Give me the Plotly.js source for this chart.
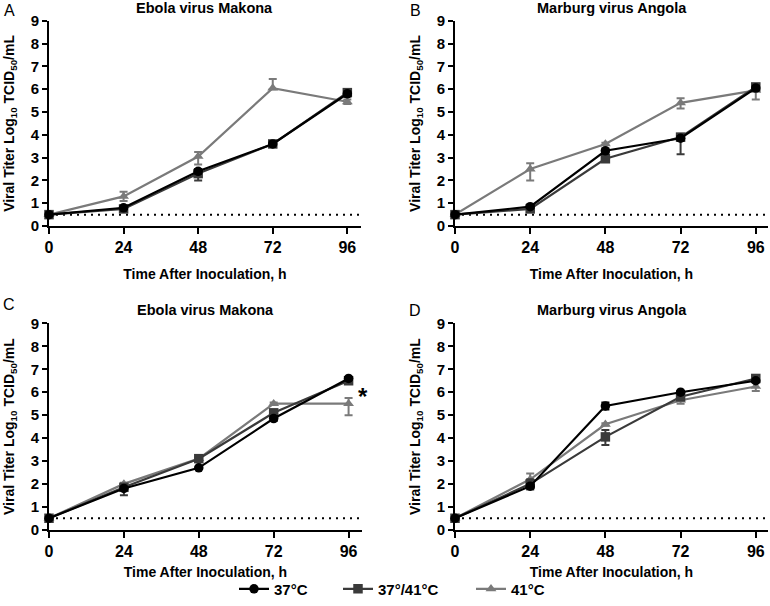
<!DOCTYPE html>
<html>
<head>
<meta charset="utf-8">
<script src="https://cdn.plot.ly/plotly-3.0.1.min.js"></script>
<style>html,body{margin:0;padding:0;background:#fff;}#chart{width:770px;height:606px;}</style>
</head>
<body>
<div id="chart"></div>
<script>
// ---------- DATA ----------
const hours = [0, 24, 48, 72, 96];
const seriesNames = ['37°C', '37°/41°C', '41°C'];
const panelTitles = ['Ebola virus Makona', 'Marburg virus Angola', 'Ebola virus Makona', 'Marburg virus Angola'];
const panelLetters = ['A', 'B', 'C', 'D'];
const xTickVals = [0, 24, 48, 72, 96];
const yTickVals = [0, 1, 2, 3, 4, 5, 6, 7, 8, 9];
const detectionLimit = 0.5;

// Panel A – Ebola virus Makona
const a37 = [0.5, 0.8, 2.4, 3.6, 5.8];
const a37Up = [0, 0.05, 0.1, 0.05, 0.1];
const a37Down = [0, 0.05, 0.1, 0.05, 0.1];
const a3741 = [0.5, 0.75, 2.3, 3.6, 5.85];
const a3741Up = [0, 0.05, 0.15, 0.05, 0.1];
const a3741Down = [0, 0.05, 0.3, 0.05, 0.1];
const a41 = [0.5, 1.3, 3.05, 6.05, 5.45];
const a41Up = [0, 0.2, 0.2, 0.4, 0.1];
const a41Down = [0, 0.2, 0.35, 0.05, 0.1];

// Panel B – Marburg virus Angola
const b37 = [0.5, 0.85, 3.3, 3.85, 6.05];
const b37Up = [0, 0.05, 0.1, 0.1, 0.1];
const b37Down = [0, 0.05, 0.1, 0.1, 0.1];
const b3741 = [0.5, 0.75, 2.95, 3.9, 6.1];
const b3741Up = [0, 0.05, 0.1, 0.1, 0.1];
const b3741Down = [0, 0.05, 0.1, 0.75, 0.1];
const b41 = [0.5, 2.5, 3.6, 5.4, 5.95];
const b41Up = [0, 0.25, 0.05, 0.2, 0.1];
const b41Down = [0, 0.5, 0.05, 0.25, 0.4];

// Panel C – Ebola virus Makona
const c37 = [0.5, 1.8, 2.7, 4.85, 6.6];
const c37Up = [0, 0.05, 0.05, 0.1, 0.05];
const c37Down = [0, 0.05, 0.05, 0.1, 0.05];
const c3741 = [0.5, 1.85, 3.1, 5.1, 6.5];
const c3741Up = [0, 0.1, 0.05, 0.1, 0.05];
const c3741Down = [0, 0.35, 0.05, 0.1, 0.05];
const c41 = [0.5, 2.0, 3.1, 5.5, 5.5];
const c41Up = [0, 0.05, 0.05, 0.05, 0.25];
const c41Down = [0, 0.05, 0.05, 0.05, 0.5];

// Panel D – Marburg virus Angola
const d37 = [0.5, 1.9, 5.4, 6.0, 6.5];
const d37Up = [0, 0.1, 0.15, 0.05, 0.05];
const d37Down = [0, 0.1, 0.15, 0.05, 0.05];
const d3741 = [0.5, 2.0, 4.05, 5.8, 6.6];
const d3741Up = [0, 0.2, 0.3, 0.1, 0.05];
const d3741Down = [0, 0.25, 0.35, 0.1, 0.05];
const d41 = [0.5, 2.2, 4.6, 5.65, 6.25];
const d41Up = [0, 0.25, 0.05, 0.15, 0.2];
const d41Down = [0, 0.25, 0.05, 0.15, 0.2];

// ---------- STYLE ----------
const W = 770, H = 606;
const FONT = '"Liberation Sans", Arial, Helvetica, sans-serif';
const seriesColors = ['#000000', '#3a3a3a', '#7a7a7a'];
const seriesSymbols = ['circle', 'square', 'triangle-up'];
const seriesSizes = [9.5, 9.5, 9.5];
const legendIds = ['legend', 'legend2', 'legend3'];
const legendLeftPx = [234, 338, 471];

// panel geometry in pixels: [left, right], [top, bottom] and x range max
const panels = [
  {px: [49, 361], py: [21, 228.3], xmax: 100.4, titleY: 8, letterY: 11, standoff: 14},
  {px: [455, 768], py: [21, 228.3], xmax: 99.9, titleY: 8, letterY: 11, standoff: 14},
  {px: [49, 362], py: [326.7, 535], xmax: 100.3, titleY: 313, letterY: 308, standoff: 8},
  {px: [455, 768], py: [326.7, 535], xmax: 99.9, titleY: 313, letterY: 314, standoff: 8}
];

const panelData = [
  [[a37, a37Up, a37Down], [a3741, a3741Up, a3741Down], [a41, a41Up, a41Down]],
  [[b37, b37Up, b37Down], [b3741, b3741Up, b3741Down], [b41, b41Up, b41Down]],
  [[c37, c37Up, c37Down], [c3741, c3741Up, c3741Down], [c41, c41Up, c41Down]],
  [[d37, d37Up, d37Down], [d3741, d3741Up, d3741Down], [d41, d41Up, d41Down]]
];

const traces = [];
panelData.forEach((series, p) => {
  const suffix = p === 0 ? '' : String(p + 1);
  // draw 41°C first, then 37°/41°C, then 37°C on top
  [2, 1, 0].forEach(s => {
    const [vals, up, down] = series[s];
    traces.push({
      type: 'scatter',
      mode: 'lines+markers',
      x: hours,
      y: vals,
      name: seriesNames[s],
      legend: legendIds[s],
      showlegend: p === 0,
      xaxis: 'x' + suffix,
      yaxis: 'y' + suffix,
      cliponaxis: false,
      line: {color: seriesColors[s], width: 2.2},
      marker: {color: seriesColors[s], symbol: seriesSymbols[s], size: seriesSizes[s]},
      error_y: {type: 'data', symmetric: false, array: up, arrayminus: down,
                color: seriesColors[s], thickness: 2, width: 4}
    });
  });
});

const layout = {
  width: W, height: H,
  margin: {l: 0, r: 0, t: 0, b: 0},
  paper_bgcolor: '#ffffff',
  plot_bgcolor: '#ffffff',
  font: {family: FONT, color: '#000'},
  showlegend: true,
  annotations: [],
  shapes: []
};

legendIds.forEach((id, i) => {
  layout[id] = {
    orientation: 'h', x: legendLeftPx[i] / W, xanchor: 'left',
    y: 1 - 595 / H, yanchor: 'middle',
    bgcolor: 'rgba(0,0,0,0)', borderwidth: 0,
    font: {family: FONT, size: 15, color: '#000', weight: 'bold'}
  };
});

panels.forEach((pg, p) => {
  const suffix = p === 0 ? '' : String(p + 1);
  layout['xaxis' + suffix] = {
    domain: [pg.px[0] / W, pg.px[1] / W],
    range: [0, pg.xmax],
    anchor: 'y' + suffix,
    showgrid: false, zeroline: false,
    showline: true, linecolor: '#000', linewidth: 2,
    ticks: 'outside', ticklen: 6, tickwidth: 2, tickcolor: '#000',
    tickvals: xTickVals, ticktext: xTickVals.map(String),
    tickfont: {family: FONT, size: 16, color: '#000', weight: 'bold'},
    title: {text: 'Time After Inoculation, h', standoff: pg.standoff,
            font: {family: FONT, size: 14, color: '#000', weight: 'bold'}}
  };
  layout['yaxis' + suffix] = {
    domain: [1 - pg.py[1] / H, 1 - pg.py[0] / H],
    range: [0, 9],
    anchor: 'x' + suffix,
    showgrid: false, zeroline: false,
    showline: true, linecolor: '#000', linewidth: 2,
    ticks: 'outside', ticklen: 5, tickwidth: 2, tickcolor: '#000',
    tickvals: yTickVals, ticktext: yTickVals.map(String),
    tickfont: {family: FONT, size: 15, color: '#000', weight: 'bold'},
    title: {text: 'Viral Titer Log<sub>10</sub> TCID<sub>50</sub>/mL', standoff: 13,
            font: {family: FONT, size: 14, color: '#000', weight: 'bold'}}
  };
  layout.shapes.push({
    type: 'line', xref: 'x' + suffix + ' domain', yref: 'y' + suffix,
    x0: 0, x1: 1, y0: detectionLimit, y1: detectionLimit,
    line: {color: '#000', width: 2, dash: '2px,5px'}, layer: 'below'
  });
  // panel title
  layout.annotations.push({
    xref: 'paper', yref: 'paper',
    x: ((pg.px[0] + pg.px[1]) / 2) / W, y: 1 - pg.titleY / H,
    xanchor: 'center', yanchor: 'middle', showarrow: false,
    text: panelTitles[p],
    font: {family: FONT, size: 14.5, color: '#000', weight: 'bold'}
  });
  // panel letter
  layout.annotations.push({
    xref: 'paper', yref: 'paper',
    x: (pg.px[0] - 40) / W, y: 1 - pg.letterY / H,
    xanchor: 'center', yanchor: 'middle', showarrow: false,
    text: panelLetters[p],
    font: {family: FONT, size: 16, color: '#000'}
  });
});

// significance asterisk in panel C
layout.annotations.push({
  xref: 'paper', yref: 'paper', x: 363 / W, y: 1 - 400 / H,
  xanchor: 'center', yanchor: 'middle', showarrow: false,
  text: '*', font: {family: FONT, size: 24, color: '#000', weight: 'bold'}
});

Plotly.newPlot('chart', traces, layout, {staticPlot: true, displayModeBar: false});
</script>
</body>
</html>
